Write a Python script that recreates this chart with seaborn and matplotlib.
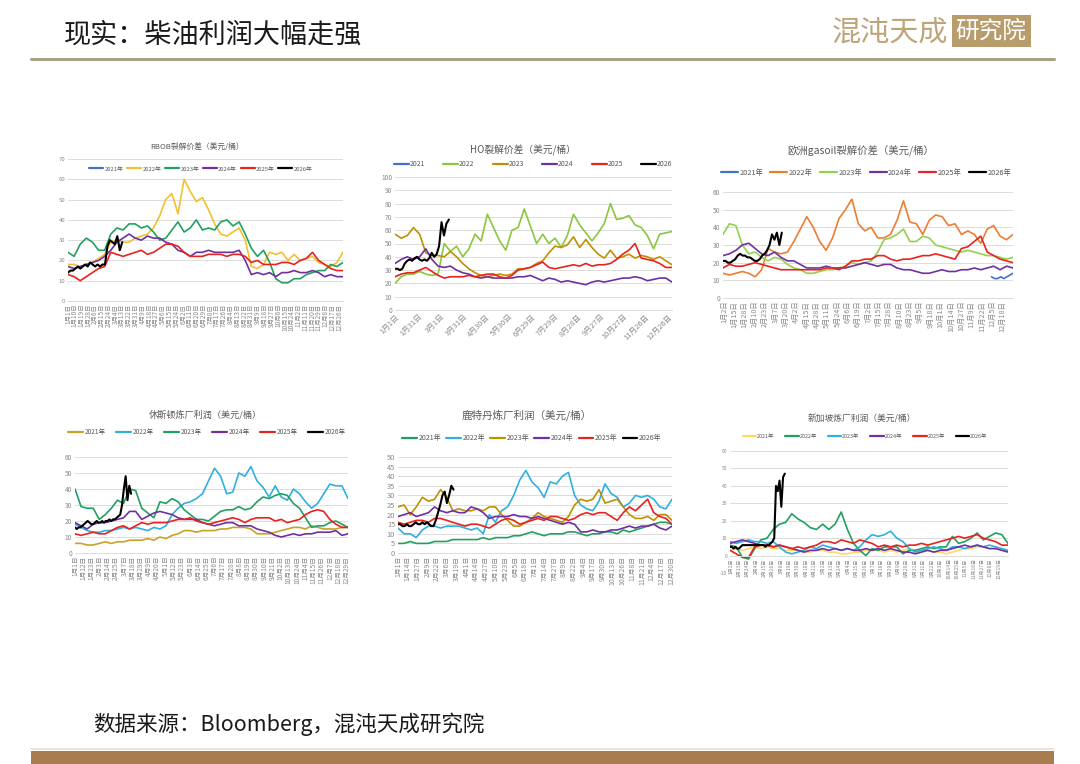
import numpy as np
import matplotlib
matplotlib.use("Agg")
import matplotlib.pyplot as plt
from matplotlib.lines import Line2D
from matplotlib.patches import Rectangle
import seaborn as sns

sns.set_theme(style="white")
plt.rcParams["font.family"] = ["Noto Sans CJK SC", "DejaVu Sans"]
plt.rcParams["axes.unicode_minus"] = False

# ---------------- data ----------------
years_nian = ["2021年", "2022年", "2023年", "2024年", "2025年", "2026年"]
years_plain = ["2021", "2022", "2023", "2024", "2025", "2026"]

# RBOB crack
rbob_2022 = [18,18,17,18,19,21,23,29,30,29,29,31,32,33,36,42,50,53,43,60,54,49,51,45,38,33,32,34,36,30,17,16,18,24,23,24,20,23,20,21,22,19,18,17,19,24]
rbob_2023 = [24,22,28,31,29,25,25,33,36,35,38,38,36,37,34,30,31,35,39,34,36,40,35,36,35,39,40,37,39,33,26,22,25,19,11,9,9,11,11,13,14,15,15,18,17,19]
rbob_2024 = [17,16,17,18,19,20,22,25,29,31,33,31,30,32,31,31,29,28,25,24,22,24,24,25,24,24,24,24,25,20,13,14,13,14,12,14,14,15,14,14,15,14,12,13,12,12]
rbob_2025 = [13,12,10,12,14,16,17,24,23,22,23,24,25,23,24,26,28,28,27,24,22,22,22,23,23,23,22,23,23,22,19,20,18,18,18,19,19,18,20,21,24,20,18,16,15,15]
rbob_2026 = [14,15,15,16,17,16,17,18,17,19,18,17,18,17,18,18,27,30,29,28,32,25,29]
rbob_2026_last_day = 72

# HO crack
ho_2022 = [20,25,27,27,29,27,26,27,50,44,48,40,46,57,52,72,62,52,45,60,62,76,63,50,57,50,54,47,56,72,64,58,52,58,65,80,68,69,71,64,62,56,46,57,58,59]
ho_2023 = [57,54,56,62,57,43,41,41,40,44,40,35,31,28,26,25,26,27,26,27,31,31,32,35,37,43,48,47,49,55,47,53,47,42,39,45,39,40,42,39,41,40,38,40,37,34]
ho_2024 = [35,38,40,38,40,46,38,33,32,33,30,28,27,25,24,25,24,24,24,24,25,25,26,24,22,24,23,21,22,21,20,19,21,22,21,22,23,24,24,25,24,22,23,24,24,21]
ho_2025 = [25,27,28,28,30,32,29,26,24,25,25,25,26,25,26,27,27,25,24,26,30,31,32,34,36,32,31,32,33,34,33,35,33,34,34,35,38,42,45,50,39,38,37,35,32,32]
ho_2026 = [31,31,30,31,35,37,38,37,39,40,38,37,38,37,39,43,40,42,48,66,56,65,68]
ho_2026_last_day = 71

# European gasoil crack
gas_2021 = [12,11,11,12,11,12,13,14]
gas_2021_first_day = 338
gas_2022 = [14,13,14,15,14,12,16,28,26,25,26,32,39,46,40,32,27,34,45,50,56,42,38,40,34,34,36,44,55,43,42,36,44,47,46,41,42,36,38,36,31,39,41,35,33,36]
gas_2023 = [36,42,41,30,25,26,23,21,23,22,19,17,16,14,14,15,16,16,17,18,20,19,20,21,26,33,34,36,39,32,32,35,34,30,29,28,27,26,27,26,25,24,24,23,22,23]
gas_2024 = [24,25,27,30,31,28,25,24,26,23,21,21,19,17,17,17,18,17,17,17,18,19,20,19,18,19,19,17,16,16,15,14,14,15,16,15,15,16,16,17,16,17,18,16,18,17]
gas_2025 = [17,19,18,18,19,20,19,18,17,16,16,16,16,16,16,16,17,17,16,18,21,21,22,22,24,24,22,21,22,22,23,24,24,25,24,23,22,28,29,32,35,26,24,22,21,20]
gas_2026 = [21,21,20,20,21,22,24,25,24,24,23,23,22,21,21,22,24,25,27,30,36,33,37,30,37]
gas_2026_last_day = 74

# Houston refinery margin
hou_2021 = [6,6,5,5,6,7,6,7,7,8,8,8,9,8,10,9,11,12,14,14,13,14,14,14,15,15,16,16,16,15,12,12,12,13,14,15,16,16,15,17,16,15,15,15,16,16]
hou_2022 = [18,16,14,13,13,14,14,15,16,15,16,15,14,16,15,17,24,28,31,32,34,37,45,53,48,37,38,50,48,54,45,41,35,42,35,33,40,37,32,28,31,37,43,42,42,34]
hou_2023 = [40,29,28,28,21,24,28,33,31,40,39,28,25,22,32,31,34,32,27,24,21,21,20,23,26,27,27,29,27,28,32,35,34,36,37,36,31,28,22,16,17,17,19,20,18,16]
hou_2024 = [19,17,15,18,19,19,20,21,22,26,26,21,23,25,26,25,24,22,21,21,21,19,18,17,18,19,19,17,17,17,15,14,13,11,10,11,12,11,12,12,13,13,13,14,11,12]
hou_2025 = [12,11,12,13,12,12,14,16,17,15,17,19,18,19,19,19,20,21,21,22,20,19,18,19,20,21,22,21,19,21,22,22,22,20,21,19,20,21,24,26,27,26,21,18,16,16]
hou_2026 = [16,15,16,16,17,18,19,20,19,18,18,19,20,19,19,20,19,20,20,21,20,21,21,22,23,24,30,40,48,33,42,37]
hou_2026_last_day = 75

# Rotterdam refinery margin
rot_2021 = [5,5,6,5,5,5,6,6,6,7,7,7,7,7,8,7,8,8,8,9,9,10,11,10,9,10,10,10,11,11,10,9,10,10,11,11,10,12,11,12,13,14,15,16,16,15]
rot_2022 = [13,10,10,8,12,14,14,13,14,14,14,13,12,13,10,20,16,22,24,30,38,43,37,34,29,37,36,40,42,30,25,23,22,27,36,31,29,24,26,30,29,30,28,24,23,28]
rot_2023 = [24,25,20,24,29,27,28,33,29,22,23,22,22,23,22,24,24,20,17,14,14,16,18,21,19,18,17,16,19,25,28,27,28,33,26,27,28,24,20,18,18,19,17,20,20,17]
rot_2024 = [19,20,21,19,20,21,24,22,21,22,21,21,24,23,21,18,19,19,19,20,19,19,18,19,18,17,16,15,16,15,11,11,12,11,11,12,12,13,14,13,14,14,15,13,12,14]
rot_2025 = [16,15,16,17,17,16,18,18,17,16,15,14,15,15,14,13,15,17,18,17,15,16,17,18,17,19,19,18,17,18,20,21,20,21,21,19,17,21,24,22,25,28,21,19,18,15]
rot_2026 = [15,15,14,14,15,14,14,15,16,15,15,16,15,16,15,14,14,17,21,25,30,32,26,30,35,33]
rot_2026_last_day = 74

# Singapore refinery margin
sgp_2021 = [3,4,3,4,5,4,5,4,4,3,3,3,2,2,3,3,2,2,1,1,2,2,3,3,3,2,3,2,3,4,3,3,3,2,2,1,2,3,4,4,5,5,4,4,3,3]
sgp_2022 = [6,5,-1,-2,4,9,10,15,18,19,24,21,19,16,15,18,15,18,25,15,7,3,0,4,3,5,5,5,1,3,3,4,5,4,5,5,11,7,8,10,13,9,11,13,12,7]
sgp_2023 = [8,7,8,9,8,8,7,8,5,2,1,2,3,5,4,6,5,4,3,4,3,5,9,12,11,12,14,10,8,4,2,3,4,5,4,3,5,5,4,5,6,5,6,5,4,3]
sgp_2024 = [7,8,9,8,7,6,6,5,6,5,4,3,2,3,3,4,3,4,3,4,3,3,4,3,4,3,4,3,2,2,1,2,3,2,3,3,4,5,6,5,6,5,4,4,3,2]
sgp_2025 = [3,1,-1,-1,5,6,6,5,6,5,4,5,4,5,6,8,8,7,9,8,7,9,8,7,5,6,5,6,5,6,6,7,6,7,8,9,10,11,10,11,12,10,9,8,6,6]
sgp_2026 = [5,5,4,5,4,4,5,6,6,6,6,6,6,6,6,6,6,6,6,6,5,6,6,7,8,10,40,37,43,28,45,47]
sgp_2026_last_day = 72

# x tick labels
rbob_xlabels = ["1月1日","1月10日","1月19日","1月28日","2月6日","2月15日","2月24日","3月4日","3月13日","3月22日","3月31日","4月9日","4月18日","4月27日","5月6日","5月15日","5月24日","6月2日","6月11日","6月20日","6月29日","7月8日","7月17日","7月26日","8月4日","8月13日","8月22日","8月31日","9月9日","9月18日","9月27日","10月6日","10月15日","10月24日","11月2日","11月11日","11月20日","11月29日","12月8日","12月17日","12月26日"]
ho_xlabels = ["1月1日","1月31日","3月1日","3月31日","4月30日","5月30日","6月29日","7月29日","8月28日","9月27日","10月27日","11月26日","12月26日"]
gas_xlabels = ["1月2日","1月15日","1月28日","2月10日","2月23日","3月7日","3月20日","4月2日","4月15日","4月28日","5月11日","5月24日","6月6日","6月19日","7月2日","7月15日","7月28日","8月10日","8月23日","9月5日","9月18日","10月1日","10月14日","10月27日","11月9日","11月22日","12月5日","12月18日"]
hou_xlabels = ["1月1日","1月12日","1月23日","2月3日","2月14日","2月25日","3月7日","3月18日","3月29日","4月9日","4月20日","5月1日","5月12日","5月23日","6月3日","6月14日","6月25日","7月6日","7月17日","7月28日","8月8日","8月19日","8月30日","9月10日","9月21日","10月2日","10月13日","10月24日","11月4日","11月15日","11月26日","12月7日","12月18日","12月29日"]
rot_xlabels = ["1月1日","1月14日","1月27日","2月9日","2月22日","3月6日","3月19日","4月1日","4月14日","4月27日","5月10日","5月23日","6月5日","6月18日","7月1日","7月14日","7月27日","8月9日","8月22日","9月4日","9月17日","9月30日","10月13日","10月26日","11月8日","11月21日","12月4日","12月17日","12月30日"]
sgp_xlabels = ["1月2日","1月13日","1月24日","2月4日","2月15日","2月26日","3月8日","3月19日","3月30日","4月10日","4月21日","5月2日","5月13日","5月24日","6月4日","6月15日","6月26日","7月7日","7月18日","7月29日","8月9日","8月20日","8月31日","9月11日","9月22日","10月3日","10月14日","10月25日","11月5日","11月16日","11月27日","12月8日","12月19日"]

# ---------------- styles ----------------
RED = "#E8231E"; PUR = "#7030A0"; BLU = "#4472C4"; CYN = "#2FB0E0"
GRN = "#22A060"; GLD = "#BF9000"; BLK = "#000000"
rbob_colors = [BLU, "#F2C12E", GRN, PUR, RED, BLK]
ho_colors = [BLU, "#8CC63E", GLD, PUR, RED, BLK]
gas_colors = [BLU, "#ED7D31", "#92D050", PUR, RED, BLK]
hou_colors = ["#C9A227", CYN, GRN, PUR, RED, BLK]
rot_colors = [GRN, CYN, GLD, PUR, RED, BLK]
sgp_colors = ["#FFD966", GRN, CYN, PUR, RED, BLK]

W, H = 1080, 764
fig = plt.figure(figsize=(W / 100, H / 100), dpi=100)
fig.patch.set_facecolor("white")
TXT = "#595959"
TICK = "#8a8a8a"
GRID = "#dcdcdc"


def panel(rect, title, tpos, tfs, labels, colors, series, ylim, ystep,
          xlabels, xstart, xstep, xrot, xfs, yfs, lpos, lfs, hl, htp, cs,
          zero_axis=False):
    l, t, r, b = rect
    ax = fig.add_axes([l / W, 1 - b / H, (r - l) / W, (b - t) / H])
    for idx, vals, x0, x1 in series:
        xs = np.linspace(x0, x1, len(vals))
        lw = 1.5 if idx == 5 else 1.2
        sns.lineplot(x=xs, y=vals, ax=ax, color=colors[idx], linewidth=lw,
                     estimator=None, sort=False, legend=False)
    ax.set_xlim(0, 365)
    ax.set_ylim(*ylim)
    ax.set_yticks(np.arange(ylim[0], ylim[1] + 0.01, ystep))
    ax.set_yticklabels([f"{v:g}" for v in np.arange(ylim[0], ylim[1] + 0.01, ystep)])
    ax.grid(axis="y", color=GRID, linewidth=0.7)
    ax.grid(axis="x", visible=False)
    ax.set_axisbelow(True)
    for s in ["top", "right", "left"]:
        ax.spines[s].set_visible(False)
    ax.spines["bottom"].set_color(GRID)
    ax.spines["bottom"].set_linewidth(0.7)
    if zero_axis:
        ax.spines["bottom"].set_position(("data", 0))
    ticks = xstart + xstep * np.arange(len(xlabels))
    ax.set_xticks(ticks)
    if xrot == 45:
        ax.set_xticklabels(xlabels, rotation=45, ha="right", va="top",
                           rotation_mode="anchor")
    else:
        ax.set_xticklabels(xlabels, rotation=90, ha="center", va="top")
    ax.tick_params(axis="x", length=0, pad=2, labelsize=xfs, labelcolor=TICK)
    ax.tick_params(axis="y", length=0, pad=2, labelsize=yfs, labelcolor=TICK)
    ax.set_xlabel(""); ax.set_ylabel("")
    fig.text(tpos[0] / W, 1 - tpos[1] / H, title, ha="center", va="center",
             fontsize=tfs, color=TXT)
    handles = [Line2D([0], [0], color=c, lw=1.6) for c in colors]
    fig.legend(handles, labels, loc="center",
               bbox_to_anchor=(lpos[0] / W, 1 - lpos[1] / H), ncol=6,
               frameon=False, fontsize=lfs, handlelength=hl,
               handletextpad=htp, columnspacing=cs, labelcolor=TXT,
               borderpad=0, borderaxespad=0)
    return ax


# RBOB
panel((68, 159, 343, 301), "RBOB裂解价差（美元/桶）", (197, 147), 5.6,
      years_nian, rbob_colors,
      [(1, rbob_2022, 0, 365), (2, rbob_2023, 0, 365), (3, rbob_2024, 0, 365),
       (4, rbob_2025, 0, 365), (5, rbob_2026, 0, rbob_2026_last_day)],
      (0, 70), 10, rbob_xlabels, 0, 9, 90, 4.6, 4.3,
      (201, 169), 4.2, 2.4, 0.25, 0.6)

# HO
panel((395, 177, 672, 310), "HO裂解价差（美元/桶）", (523, 150), 7.0,
      years_plain, ho_colors,
      [(1, ho_2022, 0, 365), (2, ho_2023, 0, 365), (3, ho_2024, 0, 365),
       (4, ho_2025, 0, 365), (5, ho_2026, 0, ho_2026_last_day)],
      (0, 100), 10, ho_xlabels, 0, 30, 45, 5.5, 4.8,
      (533, 164), 5.0, 2.2, 0.1, 2.6)

# Gasoil
panel((723, 192, 1013, 298), "欧洲gasoil裂解价差（美元/桶）", (861, 150), 7.5,
      years_nian, gas_colors,
      [(0, gas_2021, gas_2021_first_day, 365), (1, gas_2022, 0, 365),
       (2, gas_2023, 0, 365), (3, gas_2024, 0, 365), (4, gas_2025, 0, 365),
       (5, gas_2026, 0, gas_2026_last_day)],
      (0, 60), 10, gas_xlabels, 1, 13, 90, 5.2, 4.8,
      (866, 173), 5.3, 2.3, 0.2, 1.0)

# Houston
panel((75, 457, 348, 553), "休斯顿炼厂利润（美元/桶）", (205, 415), 6.6,
      years_nian, hou_colors,
      [(0, hou_2021, 0, 365), (1, hou_2022, 0, 365), (2, hou_2023, 0, 365),
       (3, hou_2024, 0, 365), (4, hou_2025, 0, 365),
       (5, hou_2026, 0, hou_2026_last_day)],
      (0, 60), 10, hou_xlabels, 0, 11, 90, 4.8, 4.8,
      (207, 432), 4.7, 2.3, 0.25, 1.6)

# Rotterdam
panel((398, 457, 672, 553), "鹿特丹炼厂利润（美元/桶）", (527, 415), 7.6,
      years_nian, rot_colors,
      [(0, rot_2021, 0, 365), (1, rot_2022, 0, 365), (2, rot_2023, 0, 365),
       (3, rot_2024, 0, 365), (4, rot_2025, 0, 365),
       (5, rot_2026, 0, rot_2026_last_day)],
      (0, 50), 5, rot_xlabels, 0, 13, 90, 4.9, 5.4,
      (532, 438), 5.1, 2.1, 0.2, 0.7)

# Singapore
panel((730, 451, 1008, 573), "新加坡炼厂利润（美元/桶）", (862, 419), 6.3,
      years_nian, sgp_colors,
      [(0, sgp_2021, 0, 365), (1, sgp_2022, 0, 365), (2, sgp_2023, 0, 365),
       (3, sgp_2024, 0, 365), (4, sgp_2025, 0, 365),
       (5, sgp_2026, 0, sgp_2026_last_day)],
      (-10, 60), 10, sgp_xlabels, 1, 11, 90, 3.6, 3.6,
      (865, 436), 3.9, 2.5, 0.15, 2.0, zero_axis=True)

# ---------------- header / footer ----------------
fig.text(64 / W, 1 - 35 / H, "现实：柴油利润大幅走强", ha="left", va="center",
         fontsize=19.5, color="#1a1a1a")
fig.text(832 / W, 1 - 32 / H, "混沌天成", ha="left", va="center",
         fontsize=21, color="#BDA57A")
fig.add_artist(Rectangle((952 / W, 1 - 47 / H), 79 / W, 32 / H,
                         transform=fig.transFigure, facecolor="#B89C6C",
                         edgecolor="none"))
fig.text(991 / W, 1 - 31.5 / H, "研究院", ha="center", va="center",
         fontsize=17, color="white")
fig.add_artist(Line2D([31 / W, 1054 / W], [1 - 59 / H, 1 - 59 / H],
                      transform=fig.transFigure, color="#A9A285", lw=2.2))
fig.text(93 / W, 1 - 724 / H, "数据来源：Bloomberg，混沌天成研究院", ha="left",
         va="center", fontsize=15.5, color="#1a1a1a")
fig.add_artist(Rectangle((31 / W, 0), 1023 / W, 13 / H,
                         transform=fig.transFigure, facecolor="#A87C4F",
                         edgecolor="none"))
fig.add_artist(Line2D([31 / W, 1054 / W], [1 - 749 / H, 1 - 749 / H],
                      transform=fig.transFigure, color="#E9DFC8", lw=1.2))

fig.savefig("out.png", dpi=100, facecolor="white")
